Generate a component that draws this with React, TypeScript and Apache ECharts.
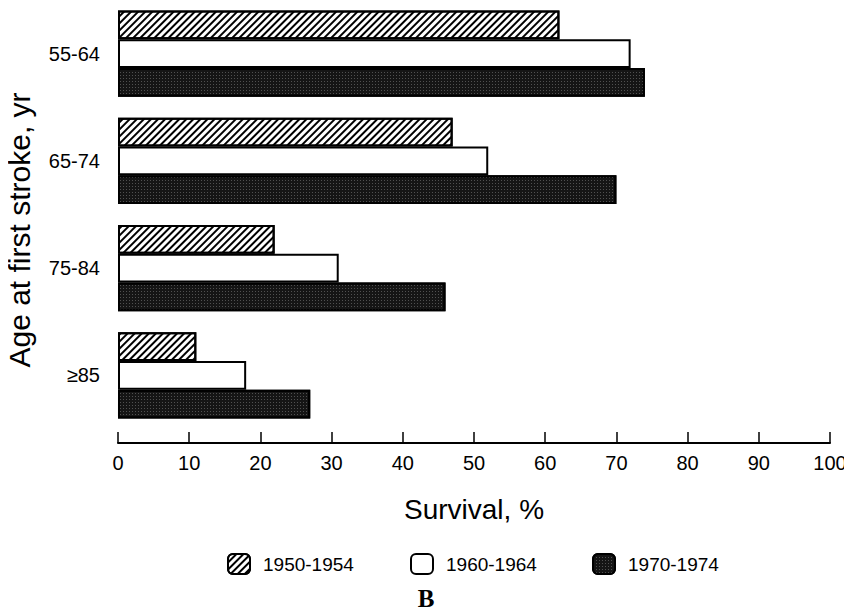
import React, { useEffect, useRef } from "react";
import * as echarts from "echarts";

const categories = ["55-64", "65-74", "75-84", "≥85"];
const seriesNames = ["1950-1954", "1960-1964", "1970-1974"];
const values1950 = [62, 47, 22, 11];
const values1960 = [72, 52, 31, 18];
const values1970 = [74, 70, 46, 27];
const xTicks = [0, 10, 20, 30, 40, 50, 60, 70, 80, 90, 100];
const yTitle = "Age at first stroke, yr";

const FONT = "'Liberation Sans', Arial, Helvetica, sans-serif";

export default function App() {
  const ref = useRef<HTMLDivElement>(null);
  useEffect(() => {
    if (!ref.current) return;
    const chart = echarts.init(ref.current, null, { renderer: "svg" });
    const border = { borderColor: "#000", borderWidth: 2 };
    const hatch = {
      symbol: "rect",
      symbolSize: 1,
      dashArrayX: [1, 0],
      dashArrayY: [1.5, 2.5],
      rotation: -Math.PI / 4,
      color: "#000",
    };
    const stipple = {
      symbol: "rect",
      symbolSize: 1,
      dashArrayX: [1, 2],
      dashArrayY: [1, 2],
      rotation: 0,
      color: "rgba(140,140,140,0.5)",
    };
    const legendBase = {
      top: 553,
      padding: 0,
      itemWidth: 22,
      itemHeight: 20,
      selectedMode: false,
      textStyle: { fontSize: 19, color: "#000", fontFamily: FONT, padding: [0, 0, 0, 8] },
    };
    const option: any = {
      animation: false,
      backgroundColor: "#fff",
      textStyle: { fontFamily: FONT },
      grid: { left: 118, right: 22, top: -4, bottom: 187, containLabel: false },
      legend: [
        { ...legendBase, data: [seriesNames[0]], left: 227 },
        { ...legendBase, data: [seriesNames[1]], left: 410 },
        { ...legendBase, data: [seriesNames[2]], left: 592 },
      ],
      xAxis: {
        type: "value",
        min: 0,
        max: 100,
        interval: 10,
        offset: 14,
        splitLine: { show: false },
        axisLine: { show: true, lineStyle: { color: "#000", width: 2 } },
        axisTick: { show: true, inside: true, length: 11, lineStyle: { color: "#000", width: 1.5 } },
        axisLabel: {
          color: "#000",
          fontSize: 20,
          margin: 10,
          fontFamily: FONT,
          formatter: (v: number) => (xTicks.includes(v) ? String(v) : ""),
        },
        name: "Survival, %",
        nameLocation: "middle",
        nameGap: 52,
        nameTextStyle: { color: "#000", fontSize: 28, fontFamily: FONT },
      },
      yAxis: {
        type: "category",
        data: categories,
        inverse: true,
        axisLine: { show: false },
        axisTick: { show: false },
        axisLabel: { color: "#000", fontSize: 20, margin: 18, fontFamily: FONT },
      },
      series: [
        {
          name: seriesNames[0],
          type: "bar",
          data: values1950,
          barWidth: 28.7,
          barGap: "0%",
          itemStyle: { color: "#fff", ...border, decal: hatch },
        },
        {
          name: seriesNames[1],
          type: "bar",
          data: values1960,
          barWidth: 28.7,
          barGap: "0%",
          itemStyle: { color: "#fff", ...border },
        },
        {
          name: seriesNames[2],
          type: "bar",
          data: values1970,
          barWidth: 28.7,
          barGap: "0%",
          itemStyle: { color: "#151515", ...border, decal: stipple },
        },
      ],
      graphic: [
        {
          type: "text",
          x: 19,
          y: 230,
          rotation: Math.PI / 2,
          style: {
            text: yTitle,
            fontSize: 30,
            fontFamily: FONT,
            fill: "#000",
            align: "center",
            verticalAlign: "middle",
          },
        },
        {
          type: "text",
          left: "center",
          top: 586,
          style: {
            text: "B",
            fontSize: 25,
            fontWeight: "bold",
            fontFamily: "'Liberation Serif', 'DejaVu Serif', serif",
            fill: "#000",
          },
        },
      ],
    };
    chart.setOption(option);
    return () => chart.dispose();
  }, []);
  return <div ref={ref} style={{ width: 852, height: 616, margin: -8 }} />;
}
